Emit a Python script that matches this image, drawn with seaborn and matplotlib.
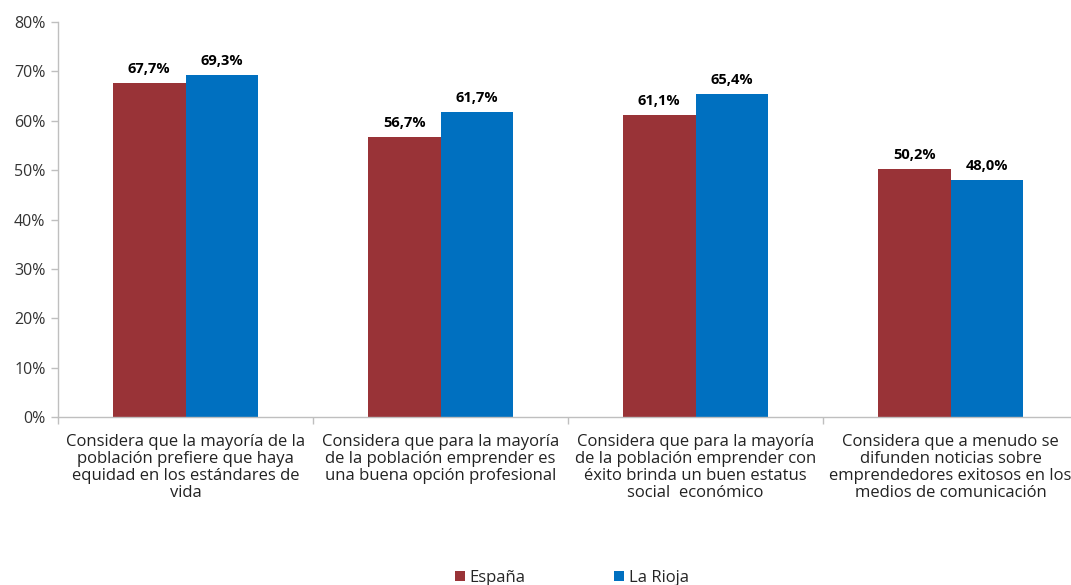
import pandas as pd
import matplotlib.pyplot as plt
import seaborn as sns
from matplotlib.ticker import FixedLocator

# Data
categorias = [
    "Considera que la mayoría de la\npoblación prefiere que haya\nequidad en los estándares de\nvida",
    "Considera que para la mayoría\nde la población emprender es\nuna buena opción profesional",
    "Considera que para la mayoría\nde la población emprender con\néxito brinda un buen estatus\nsocial  económico",
    "Considera que a menudo se\ndifunden noticias sobre\nemprendedores exitosos en los\nmedios de comunicación",
]
espana = [67.7, 56.7, 61.1, 50.2]
la_rioja = [69.3, 61.7, 65.4, 48.0]
series = ["España", "La Rioja"]
colores = ["#993337", "#0070C0"]
y_ticks = [0, 10, 20, 30, 40, 50, 60, 70, 80]

df = pd.DataFrame({
    "categoria": categorias * 2,
    "valor": espana + la_rioja,
    "serie": [series[0]] * len(categorias) + [series[1]] * len(categorias),
})

sns.set_style("white")
plt.rcParams['font.family'] = ['Open Sans', 'DejaVu Sans']

W, H = 1071, 585
fig = plt.figure(figsize=(W / 100, H / 100), dpi=100)
ax = fig.add_axes([58 / W, 1 - 417 / H, 1020 / W, 395 / H])

sns.barplot(data=df, x="categoria", y="valor", hue="serie", palette=colores,
            width=0.57, saturation=1, linewidth=0, ax=ax)

# value labels
for cont in ax.containers:
    ax.bar_label(cont, labels=[f"{v:.1f}%".replace('.', ',') for v in cont.datavalues],
                 fontweight='bold', fontsize=10.5, padding=5, color='black')

ax.set_ylim(0, 80)
ax.set_xlim(-0.5, len(categorias) - 0.5)
ax.set_yticks(y_ticks)
ax.set_yticklabels([f"{t}%" for t in y_ticks], fontsize=11.5, color='#333333')
ax.set_xticklabels(categorias, fontsize=12, color='#222222', linespacing=1.1)
ax.tick_params(axis='x', which='major', length=0, pad=12)
ax.xaxis.set_minor_locator(FixedLocator([i - 0.5 for i in range(len(categorias) + 1)]))
ax.tick_params(axis='x', which='minor', length=5, color='#BFBFBF', width=1, bottom=True)
ax.tick_params(axis='y', length=5, color='#BFBFBF', width=1, left=True, pad=4)
ax.set_xlabel("")
ax.set_ylabel("")

for s in ['top', 'right']:
    ax.spines[s].set_visible(False)
for s in ['left', 'bottom']:
    ax.spines[s].set_color('#BFBFBF')
    ax.spines[s].set_linewidth(1)

handles, labels = ax.get_legend_handles_labels()
ax.get_legend().remove()
fig.legend(handles, labels, loc='center', bbox_to_anchor=(572 / W, 1 - 578 / H),
           ncol=2, frameon=False, fontsize=12, handlelength=0.6, handleheight=0.6,
           handletextpad=0.3, columnspacing=5.3)

fig.savefig("out.png", dpi=100)
